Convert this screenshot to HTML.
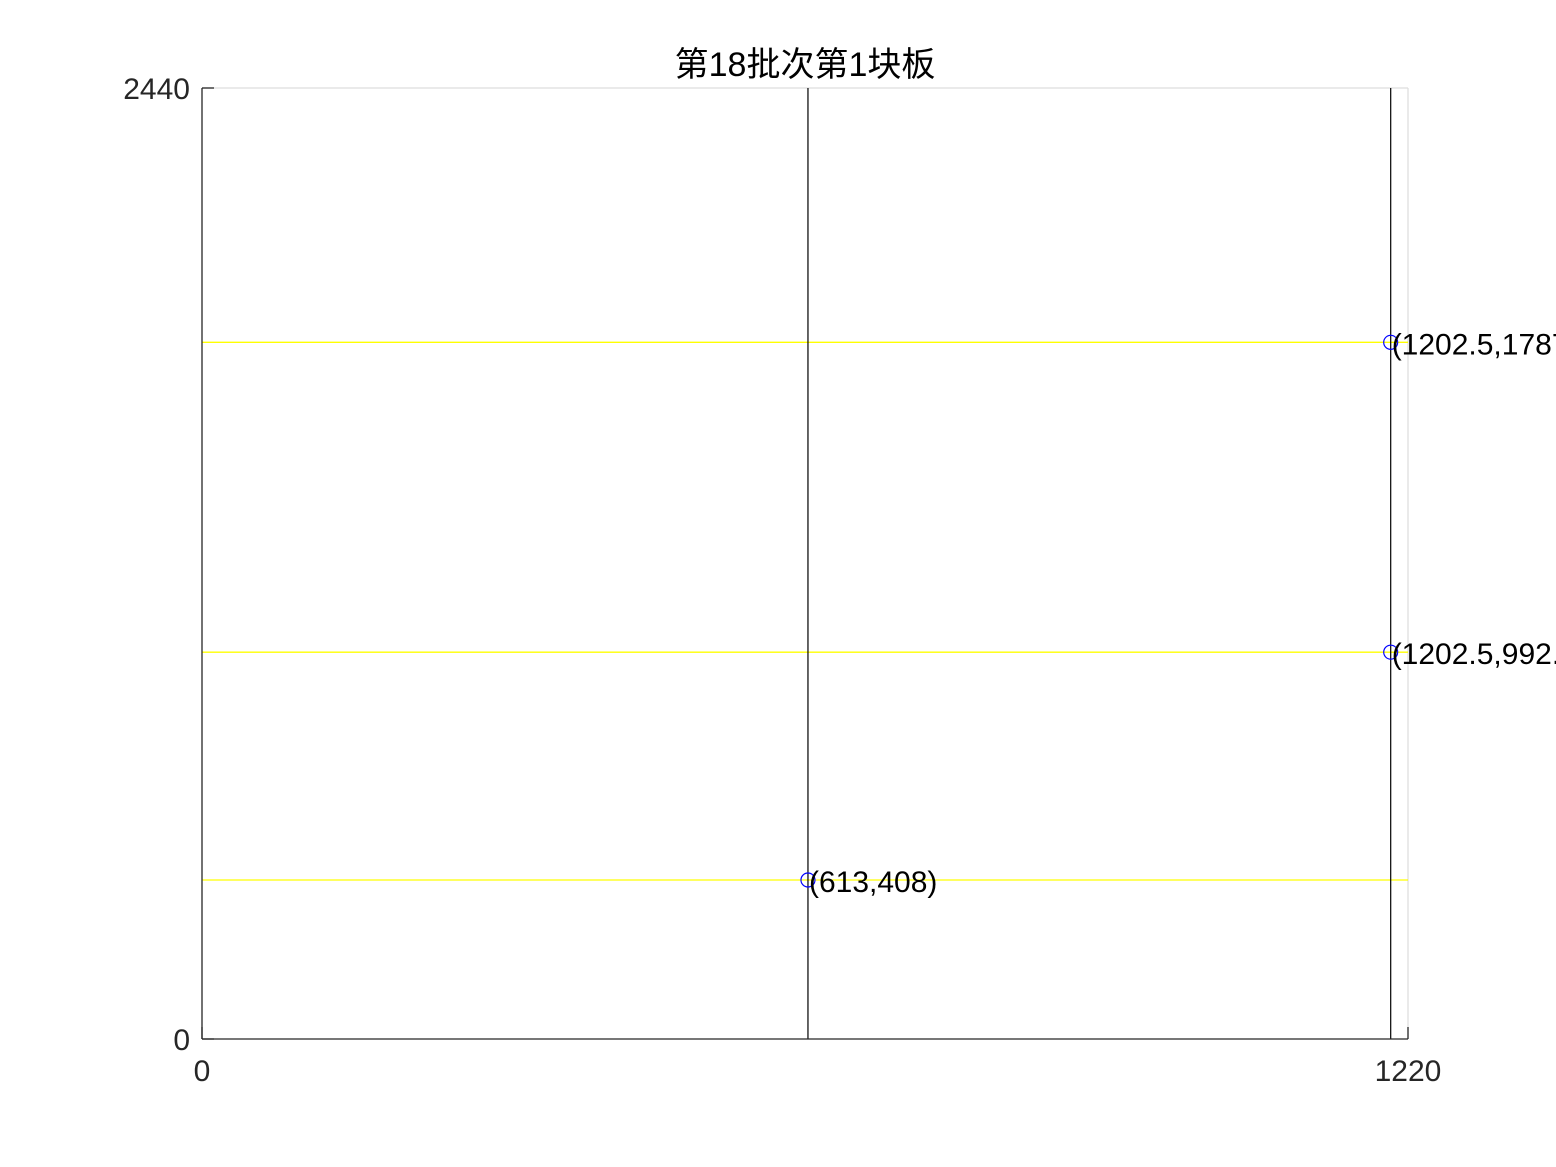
<!DOCTYPE html>
<html><head><meta charset="utf-8"><style>
html,body{margin:0;padding:0;background:#fff;}
svg{display:block;font-family:"Liberation Sans","Noto Sans CJK SC",sans-serif;}
</style></head><body>
<svg id="chart" width="1556" height="1167" viewBox="0 0 1556 1167">
<rect width="1556" height="1167" fill="#fff"/>
<g id="plot"></g>
</svg>
<script>
const xRange = [0, 1220];
const yRange = [0, 2440];
const xTicks = [0, 1220];
const yTicks = [0, 2440];
const verticalCuts = [613, 1202.5];
const horizontalCuts = [408, 992.5, 1787.5];
const pointsX = [613, 1202.5, 1202.5];
const pointsY = [408, 992.5, 1787.5];
const pointLabels = ["(613,408)", "(1202.5,992.5)", "(1202.5,1787.5)"];

const L = 202, R = 1408, T = 88, B = 1039;
const sx = v => L + (v - xRange[0]) / (xRange[1] - xRange[0]) * (R - L);
const sy = v => B - (v - yRange[0]) / (yRange[1] - yRange[0]) * (B - T);
const NS = "http://www.w3.org/2000/svg";
const g = document.getElementById('plot');
function mk(tag, attrs, parent) {
  const e = document.createElementNS(NS, tag);
  for (const k in attrs) e.setAttribute(k, attrs[k]);
  (parent || g).appendChild(e);
  return e;
}
let e;
e = mk('line', {x1: L, y1: T, x2: R, y2: T, stroke: '#dddddd', 'stroke-width': 1.2});


e = mk('line', {x1: R, y1: T, x2: R, y2: B, stroke: '#dddddd', 'stroke-width': 1.2});


horizontalCuts.forEach((v, i) => {
  const l = mk('line', {x1: sx(xRange[0]), y1: sy(v), x2: sx(xRange[1]), y2: sy(v), stroke: '#ffff00', 'stroke-width': 1.3});
  
  
});
verticalCuts.forEach((v, i) => {
  const l = mk('line', {x1: sx(v), y1: sy(yRange[0]), x2: sx(v), y2: sy(yRange[1]), stroke: '#000', 'stroke-width': 1.2});
  
  
});
e = mk('line', {x1: L, y1: T, x2: L, y2: B, stroke: '#262626', 'stroke-width': 1.3});


e = mk('line', {x1: L, y1: B, x2: R, y2: B, stroke: '#262626', 'stroke-width': 1.3});


xTicks.forEach(v => {
  const t = mk('line', {x1: sx(v), y1: B, x2: sx(v), y2: B - 12, stroke: '#262626', 'stroke-width': 1.3});
  
  
  const tx = mk('text', {x: sx(v), y: B + 42, 'text-anchor': 'middle', 'font-size': 30, fill: '#262626'});
  tx.textContent = v;
  
  
});
yTicks.forEach(v => {
  const t = mk('line', {x1: L, y1: sy(v), x2: L + 12, y2: sy(v), stroke: '#262626', 'stroke-width': 1.3});
  
  
  const tx = mk('text', {x: L - 12, y: sy(v) + 11, 'text-anchor': 'end', 'font-size': 30, fill: '#262626'});
  tx.textContent = v;
  
  
});
pointsX.forEach((px, i) => {
  const c = mk('circle', {cx: sx(px), cy: sy(pointsY[i]), r: 7, fill: 'none', stroke: '#0000ff', 'stroke-width': 1.2});
  
  
  const t = mk('text', {x: sx(px) + 1, y: sy(pointsY[i]) + 12, 'font-size': 30, fill: '#000'});
  t.textContent = pointLabels[i];
  
  
});
e = mk('text', {x: 805, y: 76, 'text-anchor': 'middle', 'font-size': 34, fill: '#000'});
e.textContent = '第18批次第1块板';


</script>
</body></html>
